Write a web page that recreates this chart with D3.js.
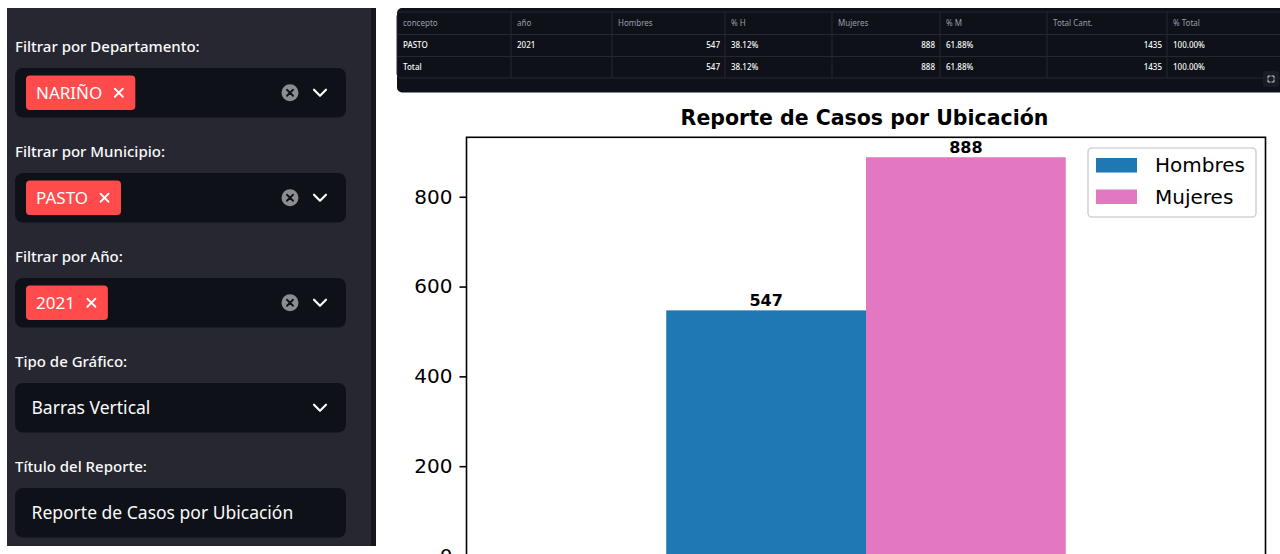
<!DOCTYPE html>
<html>
<head>
<meta charset="utf-8">
<script src="https://cdn.jsdelivr.net/npm/d3@7"></script>
<style>
  body { margin: 0; background: #ffffff; overflow: hidden; }
</style>
</head>
<body>
<div id="app"></div>
<script>
// ---- data ----
const categories = ["PASTO"];
const years = ["2021"];
const series = ["Hombres", "Mujeres"];
const hombres = [547];
const mujeres = [888];
const yTicks = [0, 200, 400, 600, 800];

const filterLabels = ["Filtrar por Departamento:", "Filtrar por Municipio:", "Filtrar por Año:", "Tipo de Gráfico:", "Título del Reporte:"];
const filterTags = ["NARIÑO", "PASTO", "2021"];
const chartType = "Barras Vertical";
const reportTitle = "Reporte de Casos por Ubicación";

const tableCols = ["concepto", "año", "Hombres", "% H", "Mujeres", "% M", "Total Cant.", "% Total"];

// ---- layout ----
const W = 1280, H = 554;
const uiFont = "'Noto Sans', sans-serif";
const mplFont = "'DejaVu Sans', sans-serif";

const svg = d3.select("#app").append("svg")
    .attr("width", W)
    .attr("height", H);

// ================= sidebar =================
const sb = svg.append("g");
sb.append("rect").attr("x", 7).attr("y", 8).attr("width", 365).attr("height", 538).attr("fill", "#262730");
sb.append("rect").attr("x", 371).attr("y", 8).attr("width", 5).attr("height", 538).attr("fill", "#14161c");

const rowStep = 105;

function chevron(g, cx, cy) {
    g.append("polyline")
        .attr("points", `${cx - 6},${cy - 3} ${cx},${cy + 3} ${cx + 6},${cy - 3}`)
        .attr("fill", "none")
        .attr("stroke", "#fafafa")
        .attr("stroke-width", 2.2)
        .attr("stroke-linecap", "round")
        .attr("stroke-linejoin", "round");
}

filterLabels.forEach((label, i) => {
    const g = sb.append("g");
    const boxY = 68 + i * rowStep;
    const cy = boxY + 24.75;

    g.append("text")
        .attr("x", 15).attr("y", 51.7 + i * rowStep)
        .style("font-family", uiFont)
        .style("font-size", "15px")
        .style("font-weight", "500")
        .attr("fill", "#fafafa")
        .text(label);

    g.append("rect")
        .attr("x", 15).attr("y", boxY)
        .attr("width", 331).attr("height", 49.5)
        .attr("rx", 8)
        .attr("fill", "#0e1117");

    if (i < filterTags.length) {
        const tag = g.append("g");
        const bg = tag.append("rect")
            .attr("x", 26).attr("y", boxY + 7.6)
            .attr("height", 34.4)
            .attr("rx", 4)
            .attr("fill", "#ff4b4b");
        const t = tag.append("text")
            .attr("x", 36).attr("y", cy)
            .attr("dy", "0.35em")
            .style("font-family", uiFont)
            .style("font-size", "17px")
            .attr("fill", "#ffffff")
            .text(filterTags[i]);
        const tEnd = 36 + t.node().getComputedTextLength();
        const xc = tEnd + 16.5;
        tag.append("path")
            .attr("d", `M${xc - 4},${cy - 4}L${xc + 4},${cy + 4}M${xc + 4},${cy - 4}L${xc - 4},${cy + 4}`)
            .attr("stroke", "#ffffff")
            .attr("stroke-width", 1.8)
            .attr("stroke-linecap", "round");
        bg.attr("width", xc + 16.5 - 26);

        // clear icon
        g.append("circle").attr("cx", 290).attr("cy", cy).attr("r", 8.5).attr("fill", "#8b8d93");
        g.append("path")
            .attr("d", `M${290 - 3},${cy - 3}L${290 + 3},${cy + 3}M${290 + 3},${cy - 3}L${290 - 3},${cy + 3}`)
            .attr("stroke", "#0e1117")
            .attr("stroke-width", 1.8)
            .attr("stroke-linecap", "round");
        chevron(g, 320, cy);
    } else {
        g.append("text")
            .attr("x", 31.5).attr("y", cy)
            .attr("dy", "0.35em")
            .style("font-family", uiFont)
            .style("font-size", "17.5px")
            .attr("fill", "#fafafa")
            .text(i === 3 ? chartType : reportTitle);
        if (i === 3) chevron(g, 320, cy);
    }
});

// ================= table =================
const totalH = d3.sum(hombres), totalM = d3.sum(mujeres), total = totalH + totalM;
const pct = v => (v / total * 100).toFixed(2) + "%";
const tableRows = categories.map((c, i) => {
    const t = hombres[i] + mujeres[i];
    return [c, years[i], hombres[i], pct(hombres[i]), mujeres[i], pct(mujeres[i]), t, (t / total * 100).toFixed(2) + "%"];
});
tableRows.push(["Total", "", totalH, pct(totalH), totalM, pct(totalM), total, "100.00%"]);

const colEdges = [397, 511, 612, 725, 832, 940, 1047, 1167, 1280];
const rowLines = [12, 34.5, 56.5, 78];
const numericCols = [2, 4, 6];

const tg = svg.append("g");
tg.append("rect").attr("x", 397).attr("y", 8).attr("width", 890).attr("height", 84.5).attr("rx", 5).attr("fill", "#0e1117");
tg.append("rect").attr("x", 397).attr("y", 12).attr("width", 890).attr("height", 66).attr("rx", 4)
    .attr("fill", "#0e1117").attr("stroke", "#262730").attr("stroke-width", 1);
rowLines.slice(1, 3).forEach(yy => {
    tg.append("line").attr("x1", 397).attr("x2", 1280).attr("y1", yy).attr("y2", yy)
        .attr("stroke", "#262730").attr("stroke-width", 1);
});
colEdges.slice(1, -1).forEach(xx => {
    tg.append("line").attr("x1", xx).attr("x2", xx).attr("y1", 12).attr("y2", 78)
        .attr("stroke", "#262730").attr("stroke-width", 1);
});

tableCols.forEach((c, j) => {
    tg.append("text")
        .attr("x", colEdges[j] + 6).attr("y", 23.5)
        .attr("dy", "0.35em")
        .style("font-family", uiFont)
        .style("font-size", "8px")
        .attr("fill", "#9b9ea8")
        .text(c);
});
tableRows.forEach((row, r) => {
    const cy = 45.5 + r * 22;
    row.forEach((v, j) => {
        const right = numericCols.includes(j);
        tg.append("text")
            .attr("x", right ? colEdges[j + 1] - 5 : colEdges[j] + 6)
            .attr("y", cy)
            .attr("dy", "0.35em")
            .attr("text-anchor", right ? "end" : "start")
            .style("font-family", uiFont)
            .style("font-size", "8px")
            .style("font-weight", "500")
            .attr("fill", "#fafafa")
            .text(v);
    });
});
// fullscreen icon
tg.append("rect").attr("x", 1263).attr("y", 71).attr("width", 16).attr("height", 16).attr("rx", 3).attr("fill", "#1a1c24");
tg.append("path")
    .attr("d", "M1268,78.5v-2.5h2.5 M1271.5,76h2.5v2.5 M1274,79.5v2.5h-2.5 M1270.5,82h-2.5v-2.5")
    .attr("fill", "none").attr("stroke", "#c9cbd1").attr("stroke-width", 1);

// ================= chart =================
const plot = { left: 466.5, right: 1265.5, top: 137.3, bottom: 556 };
const allVals = hombres.concat(mujeres);

const y = d3.scaleLinear()
    .domain([0, d3.max(allVals) * 1.05])
    .range([plot.bottom, plot.top]);

const x0 = d3.scaleBand()
    .domain(categories)
    .range([plot.left, plot.right])
    .paddingInner(0)
    .paddingOuter(0.5);

const x1 = d3.scaleBand()
    .domain(series)
    .range([0, x0.bandwidth()]);

const color = d3.scaleOrdinal().domain(series).range(["#1f77b4", "#e377c2"]);

const chart = svg.append("g");

chart.append("text")
    .attr("x", (plot.left + plot.right) / 2 - 1.5)
    .attr("y", 125)
    .attr("text-anchor", "middle")
    .style("font-family", mplFont)
    .style("font-size", "20.5px")
    .style("font-weight", "700")
    .attr("fill", "#000")
    .text(reportTitle);

const barData = [];
categories.forEach((c, i) => {
    barData.push({ cat: c, key: "Hombres", value: hombres[i] });
    barData.push({ cat: c, key: "Mujeres", value: mujeres[i] });
});

chart.selectAll(".bar")
    .data(barData)
    .join("rect")
    .attr("class", "bar")
    .attr("x", d => x0(d.cat) + x1(d.key))
    .attr("y", d => y(d.value))
    .attr("width", x1.bandwidth())
    .attr("height", d => y(0) - y(d.value))
    .attr("fill", d => color(d.key));

chart.selectAll(".bar-label")
    .data(barData)
    .join("text")
    .attr("class", "bar-label")
    .attr("x", d => x0(d.cat) + x1(d.key) + x1.bandwidth() / 2)
    .attr("y", d => y(d.value) - 4)
    .attr("text-anchor", "middle")
    .style("font-family", mplFont)
    .style("font-size", "16px")
    .style("font-weight", "700")
    .attr("fill", "#000")
    .text(d => d.value);

const yAxis = chart.append("g")
    .attr("transform", `translate(${plot.left},0)`)
    .call(d3.axisLeft(y).tickValues(yTicks).tickSize(7).tickSizeOuter(0).tickPadding(7));
yAxis.select(".domain").remove();
yAxis.selectAll(".tick line").attr("stroke", "#000").attr("stroke-width", 1.6);
yAxis.selectAll(".tick text")
    .style("font-family", mplFont)
    .style("font-size", "20px")
    .attr("fill", "#000");

chart.append("rect")
    .attr("x", plot.left).attr("y", plot.top)
    .attr("width", plot.right - plot.left)
    .attr("height", plot.bottom - plot.top)
    .attr("fill", "none")
    .attr("stroke", "#000")
    .attr("stroke-width", 1.6);

// legend
const lg = chart.append("g");
lg.append("rect")
    .attr("x", 1088).attr("y", 148)
    .attr("width", 168).attr("height", 69)
    .attr("rx", 4)
    .attr("fill", "#ffffff").attr("fill-opacity", 0.8)
    .attr("stroke", "#d3d3d3").attr("stroke-width", 1.6);
const li = lg.selectAll(".legend-item")
    .data(series)
    .join("g")
    .attr("class", "legend-item")
    .attr("transform", (d, i) => `translate(0, ${i * 31.5})`);
li.append("rect")
    .attr("x", 1096).attr("y", 158)
    .attr("width", 41).attr("height", 14.5)
    .attr("fill", d => color(d));
li.append("text")
    .attr("x", 1155).attr("y", 165)
    .attr("dy", "0.35em")
    .style("font-family", mplFont)
    .style("font-size", "20px")
    .attr("fill", "#000")
    .text(d => d);
</script>
</body>
</html>
